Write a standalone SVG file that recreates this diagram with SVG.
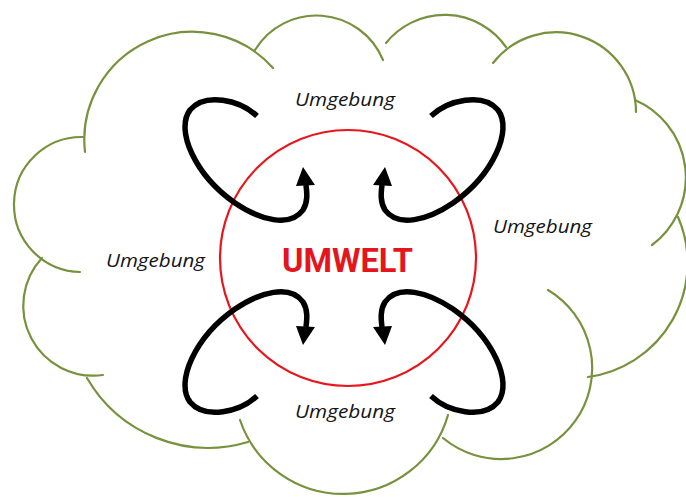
<svg xmlns="http://www.w3.org/2000/svg" xmlns:xlink="http://www.w3.org/1999/xlink" width="686" height="497" viewBox="0 0 686 497">
  <style>
    .lobe { fill: none; stroke: #77923c; stroke-width: 2.2; stroke-linecap: round; }
    .ring { fill: none; stroke: #e8161c; stroke-width: 2.2; }
    .loop { fill: none; stroke: #000; stroke-width: 5.5; stroke-linecap: butt; }
    .head { fill: #000; }
    .lbl { font-family: "Open Sans", "Noto Sans", "DejaVu Sans", sans-serif; font-style: italic; font-size: 17.5px; fill: #141414; }
    .title { font-family: Roboto, "Liberation Sans", sans-serif; font-weight: bold; font-size: 34px; fill: #e3161e; }
  </style>
  <defs>
    <g id="cycle">
      <path class="loop" d="M257,116 C240,100 205,92 190,110 C175,130 195,175 235,203 C260,220 290,228 303,210 C308,202 307,193 306,185"/>
      <polygon class="head" points="303,167 296,186 315,185"/>
    </g>
  </defs>
  <rect width="686" height="497" fill="#fff"/>
  <g id="cloud">
    <path class="lobe" d="M85,152 A108,108 0 0 1 273,68"/>
    <path class="lobe" d="M255,50 A72,72 0 0 1 383,60"/>
    <path class="lobe" d="M386,43 A75,75 0 0 1 506,47"/>
    <path class="lobe" d="M493,63 A80,80 0 0 1 636,112"/>
    <path class="lobe" d="M635,100 A84.4,84.4 0 0 1 652,245"/>
    <path class="lobe" d="M678,217 A115,115 0 0 1 588,377"/>
    <path class="lobe" d="M548,290 A91,91 0 1 1 443,438"/>
    <path class="lobe" d="M448,415 A109,109 0 0 1 240,420"/>
    <path class="lobe" d="M248,442 A140,140 0 0 1 87,378"/>
    <path class="lobe" d="M103,375 A70,70 0 0 1 42,258"/>
    <path class="lobe" d="M80,272 A67,67 0 0 1 83,137"/>
  </g>
  <g id="umwelt">
    <circle class="ring" cx="348" cy="258" r="128"/>
    <text class="title" x="282" y="272" textLength="131" lengthAdjust="spacingAndGlyphs">UMWELT</text>
  </g>
  <g id="labels">
    <text class="lbl" x="295" y="106" textLength="100" lengthAdjust="spacingAndGlyphs">Umgebung</text>
    <text class="lbl" x="493" y="233" textLength="99" lengthAdjust="spacingAndGlyphs">Umgebung</text>
    <text class="lbl" x="106" y="267" textLength="99" lengthAdjust="spacingAndGlyphs">Umgebung</text>
    <text class="lbl" x="295" y="418" textLength="100" lengthAdjust="spacingAndGlyphs">Umgebung</text>
  </g>
  <g id="connectors">
    <use xlink:href="#cycle" href="#cycle"/>
    <use xlink:href="#cycle" href="#cycle" transform="matrix(-1,0,0,1,688,0)"/>
    <use xlink:href="#cycle" href="#cycle" transform="matrix(1,0,0,-1,0,512)"/>
    <use xlink:href="#cycle" href="#cycle" transform="matrix(-1,0,0,-1,688,512)"/>
  </g>
</svg>
